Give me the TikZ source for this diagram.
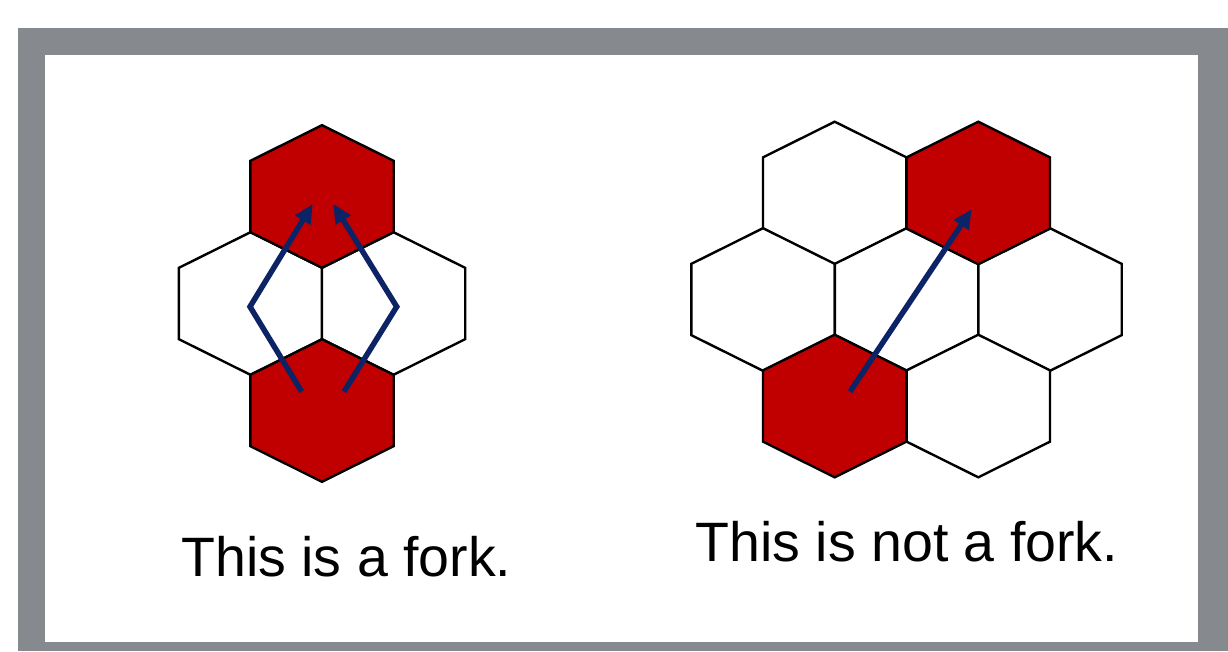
\documentclass[tikz,border=0pt]{standalone}
\usepackage{fontspec}
\setmainfont{Liberation Sans}
\usetikzlibrary{arrows.meta,calc}
\definecolor{framegray}{RGB}{134,138,142}
\definecolor{hexred}{RGB}{192,0,0}
\definecolor{navy}{RGB}{12,36,102}
\newcommand{\hexW}{71.7}
\newcommand{\hexR}{71.3}
% \hexcell{name}{x}{y}{style}
\newcommand{\hexcell}[4]{%
  \coordinate (#1) at (#2,#3);
  \path[#4] ($(#1)+(0,-\hexR)$) -- ++(\hexW,0.5*\hexR) -- ++(0,\hexR) -- ++(-\hexW,0.5*\hexR)
    -- ++(-\hexW,-0.5*\hexR) -- ++(0,-\hexR) -- cycle;}
\tikzset{
  hexwhite/.style={fill=white,draw=black,line width=2.4pt,line join=miter},
  hexfilled/.style={fill=hexred,draw=black,line width=2.4pt,line join=miter},
  movearrow/.style={draw=navy,line width=5.5pt,line join=miter,line cap=butt,
    -{Triangle[length=19pt,width=17pt]}},
  caption/.style={font=\fontsize{55.5}{60}\selectfont,anchor=base,inner sep=0pt}
}
\begin{document}
\begin{tikzpicture}[x=1pt,y=-1pt]
\useasboundingbox (0,0) rectangle (1228,651);
\fill[white] (0,0) rectangle (1228,651);
\fill[framegray] (18,28) rectangle (1228,651);
\fill[white] (45,55) rectangle (1198,642);
% left group
\hexcell{lm1}{250.5}{303.5}{hexwhite}
\hexcell{lm2}{393.5}{303.5}{hexwhite}
\hexcell{ltop}{322}{196.5}{hexfilled}
\hexcell{lbot}{322}{410.5}{hexfilled}
\coordinate (la0) at (301.7,391.7);
\coordinate (la1) at (250,306.7);
\coordinate (la2) at (312.7,204);
\coordinate (ra0) at (344,391.7);
\coordinate (ra1) at (396.7,306.7);
\coordinate (ra2) at (333.3,204);
\draw[movearrow] (la0) -- (la1) -- (la2);
\draw[movearrow] (ra0) -- (ra1) -- (ra2);
% right group
\hexcell{rt1}{834.7}{193}{hexwhite}
\hexcell{rm1}{763}{299.5}{hexwhite}
\hexcell{rm2}{906.5}{299.5}{hexwhite}
\hexcell{rm3}{1050}{299.5}{hexwhite}
\hexcell{rb2}{978.3}{406}{hexwhite}
\hexcell{rt2}{978.3}{193}{hexfilled}
\hexcell{rb1}{834.7}{406}{hexfilled}
\coordinate (sa0) at (850,391.7);
\coordinate (sa1) at (971.7,209.3);
\draw[movearrow] (sa0) -- (sa1);
% captions
\node[caption] (capL) at (346.4,576) {This is a fork.};
\node[caption] (capR) at (906.9,561.7) {This is not a fork.};
\end{tikzpicture}
\end{document}
